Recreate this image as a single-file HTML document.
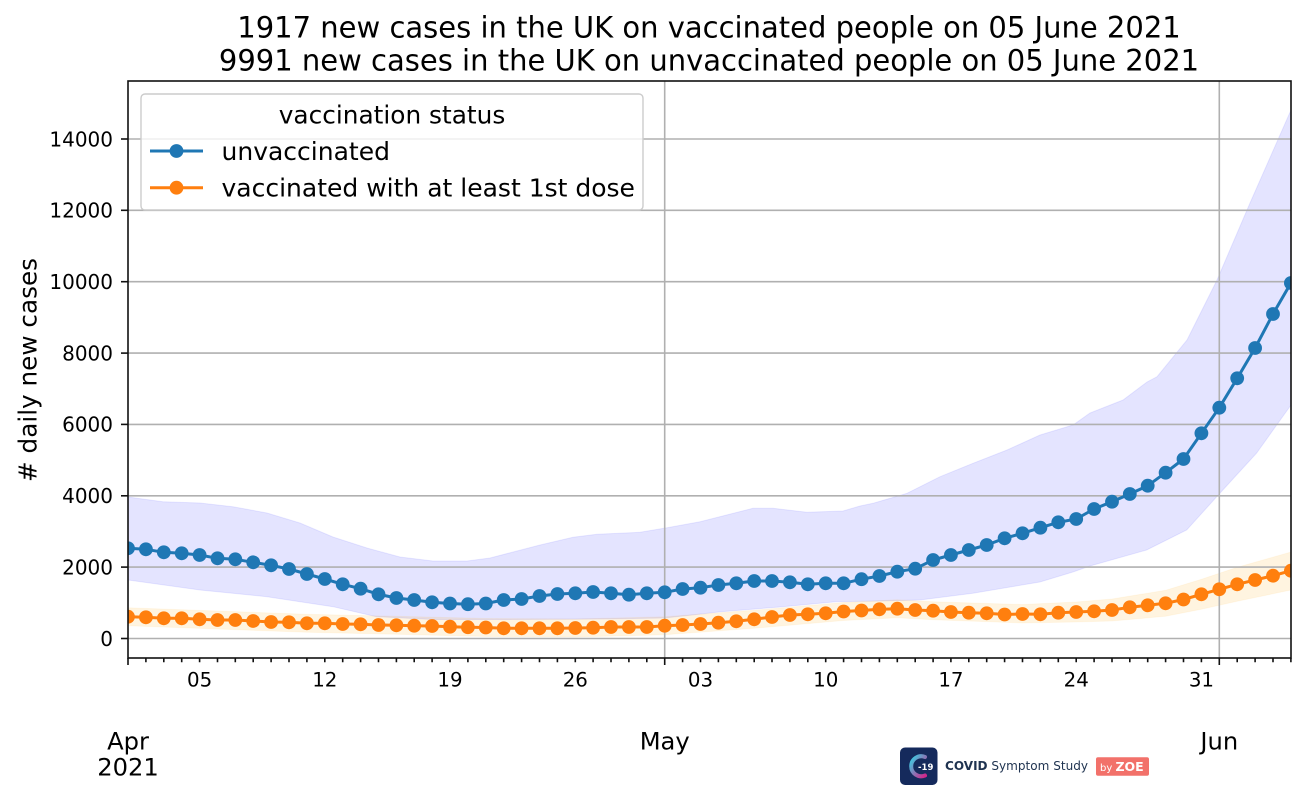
<!DOCTYPE html>
<html>
<head>
<meta charset="utf-8">
<style>
  html,body{margin:0;padding:0;background:#fff;}
  svg{display:block;}
  text{font-family:"DejaVu Sans","Liberation Sans",sans-serif;fill:#000;}
</style>
</head>
<body>
<svg width="1305" height="796" viewBox="0 0 1305 796" xmlns="http://www.w3.org/2000/svg">
  <defs>
    <clipPath id="plot"><rect x="128" y="81" width="1163" height="577"/></clipPath>
    <marker id="mb" viewBox="-8 -8 16 16" markerWidth="16" markerHeight="16" refX="0" refY="0" markerUnits="userSpaceOnUse">
      <circle r="6.9" fill="#1f77b4"/>
    </marker>
    <marker id="mo" viewBox="-8 -8 16 16" markerWidth="16" markerHeight="16" refX="0" refY="0" markerUnits="userSpaceOnUse">
      <circle r="6.9" fill="#ff7f0e"/>
    </marker>
    <linearGradient id="cg" x1="0" y1="0" x2="1" y2="1">
      <stop offset="0" stop-color="#35d3e6"/>
      <stop offset="1" stop-color="#d0268a"/>
    </linearGradient>
  </defs>

  <rect width="1305" height="796" fill="#fff"/>

  <!-- Title -->
  <text x="709" y="37.3" font-size="29" text-anchor="middle">1917 new cases in the UK on vaccinated people on 05 June 2021</text>
  <text x="709" y="70.3" font-size="29" text-anchor="middle">9991 new cases in the UK on unvaccinated people on 05 June 2021</text>

  <g clip-path="url(#plot)">
    <!-- blue confidence band -->
    <polygon fill="#0000ff" fill-opacity="0.105" stroke="#0000ff" stroke-opacity="0.08" stroke-width="1"
      points="128,497 163,501.7 200,503 233,506.7 267,513 300,523 333,537 367,548 400,557 433,561 467,561 490,558 540,545 573,537.3 597,534.3 640,532.3 667,527.7 700,521.7 753,508.3 773,508.3 807,512.3 843,511 860,506 873,503.3 907,493.3 940,476.7 973,463.3 1007,450 1040,435 1073,425 1090,413 1123,400 1147,382 1157,376.7 1187,340 1207,300 1217,280 1250,203 1291,110 1291,405 1256.7,453 1218.3,495 1186.7,530 1146.7,550 1090,566 1073,572 1040,582 973,593.3 920,600 880,601 836,601.7 780,607 721,611.7 665,618 600,619 500,619.5 433,619.5 376.6,616.7 333,606.7 300,601.7 267,596.7 200,590 128,580"/>
    <!-- orange confidence band -->
    <polygon fill="#ffa500" fill-opacity="0.12" stroke="#ffa500" stroke-opacity="0.06" stroke-width="1"
      points="128,607.7 217.5,611 306.9,614.3 396.4,616.3 485.8,618.5 575.3,619 664.7,616.7 754.2,610.3 843.6,602.5 897.3,599.7 933.1,601.7 1022.5,604.5 1076.2,602 1112,599 1165.6,590.3 1201.4,579.3 1237.2,567.3 1291,552 1291,590 1237.2,601.3 1201.4,609.3 1165.6,616.3 1112,621 1076.2,622 1022.5,623 933.1,619.7 897.3,617.7 843.6,620.5 754.2,628.3 664.7,634.7 575.3,637 485.8,636.5 396.4,634.3 306.9,632.3 217.5,629 128,625.7"/>

    <!-- grid -->
    <g stroke="#b0b0b0" stroke-width="1.6">
      <line x1="128" y1="638.5" x2="1291" y2="638.5"/>
      <line x1="128" y1="567.1" x2="1291" y2="567.1"/>
      <line x1="128" y1="495.8" x2="1291" y2="495.8"/>
      <line x1="128" y1="424.4" x2="1291" y2="424.4"/>
      <line x1="128" y1="353.1" x2="1291" y2="353.1"/>
      <line x1="128" y1="281.7" x2="1291" y2="281.7"/>
      <line x1="128" y1="210.3" x2="1291" y2="210.3"/>
      <line x1="128" y1="139" x2="1291" y2="139"/>
      <line x1="664.7" y1="81" x2="664.7" y2="658"/>
      <line x1="1219.3" y1="81" x2="1219.3" y2="658"/>
    </g>

    <!-- unvaccinated -->
    <polyline fill="none" stroke="#1f77b4" stroke-width="3" stroke-linejoin="round"
      marker-start="url(#mb)" marker-mid="url(#mb)" marker-end="url(#mb)"
      points="128,548.3 145.9,549.3 163.8,552.3 181.7,553.3 199.6,555 217.5,558.3 235.3,559.3 253.2,562.3 271.1,565.3 289,569 306.9,574 324.8,579 342.7,584.3 360.6,588.7 378.5,594.3 396.4,598 414.2,600 432.1,602.3 450,603.5 467.9,604.2 485.8,603.5 503.7,600 521.6,599 539.5,596 557.4,594 575.3,593.3 593.1,592 611,593.3 628.9,594.7 646.8,593.3 664.7,592.3 682.6,589 700.5,587.7 718.4,585 736.3,583.3 754.2,581 772,581 789.9,582.3 807.8,584.3 825.7,583.3 843.6,583.3 861.5,579.2 879.4,576 897.3,571.7 915.2,568.7 933.1,560 950.9,555 968.8,550 986.7,545 1004.6,538.3 1022.5,533.3 1040.4,527.7 1058.3,522.3 1076.2,519 1094.1,509 1112,501.7 1129.8,494 1147.7,485.7 1165.6,472.7 1183.5,459 1201.4,433.3 1219.3,407.7 1237.2,378.3 1255.1,348 1273,314 1290.9,283"/>
    <!-- vaccinated -->
    <polyline fill="none" stroke="#ff7f0e" stroke-width="3" stroke-linejoin="round"
      marker-start="url(#mo)" marker-mid="url(#mo)" marker-end="url(#mo)"
      points="128,616.7 145.9,617.3 163.8,618.3 181.7,618.3 199.6,619.3 217.5,620 235.3,620 253.2,621 271.1,622 289,622.3 306.9,623.3 324.8,623.3 342.7,624 360.6,624.3 378.5,625 396.4,625.3 414.2,625.7 432.1,626 450,626.7 467.9,627.2 485.8,627.5 503.7,628.3 521.6,628.3 539.5,628.3 557.4,628.3 575.3,628 593.1,627.7 611,627 628.9,627 646.8,627 664.7,625.7 682.6,625 700.5,624 718.4,622.7 736.3,621.3 754.2,619.3 772,617 789.9,615 807.8,614.3 825.7,613.3 843.6,611.5 861.5,610.5 879.4,609.3 897.3,608.7 915.2,610 933.1,610.7 950.9,612 968.8,612.7 986.7,613.3 1004.6,614.5 1022.5,614 1040.4,614.3 1058.3,612.7 1076.2,612 1094.1,611.3 1112,610 1129.8,607.3 1147.7,605.3 1165.6,603.3 1183.5,599.5 1201.4,594.3 1219.3,589.3 1237.2,584.3 1255.1,580 1273,575.7 1290.9,570.7"/>
  </g>

  <!-- spines -->
  <rect x="128" y="81" width="1163" height="577" fill="none" stroke="#111" stroke-width="1.6"/>

  <!-- y ticks -->
  <g stroke="#111" stroke-width="1.6">
    <line x1="121" y1="638.5" x2="128" y2="638.5"/>
    <line x1="121" y1="567.1" x2="128" y2="567.1"/>
    <line x1="121" y1="495.8" x2="128" y2="495.8"/>
    <line x1="121" y1="424.4" x2="128" y2="424.4"/>
    <line x1="121" y1="353.1" x2="128" y2="353.1"/>
    <line x1="121" y1="281.7" x2="128" y2="281.7"/>
    <line x1="121" y1="210.3" x2="128" y2="210.3"/>
    <line x1="121" y1="139" x2="128" y2="139"/>
  </g>
  <g font-size="20" text-anchor="end">
    <text x="113" y="645.8">0</text>
    <text x="113" y="574.4">2000</text>
    <text x="113" y="503.1">4000</text>
    <text x="113" y="431.7">6000</text>
    <text x="113" y="360.4">8000</text>
    <text x="113" y="289">10000</text>
    <text x="113" y="217.6">12000</text>
    <text x="113" y="146.3">14000</text>
  </g>

  <!-- x ticks -->
  <path stroke="#111" stroke-width="1.6" fill="none" d="M128 658v7 M664.7 658v7 M1219.3 658v7
    M145.9 658v4.2 M163.8 658v4.2 M181.7 658v4.2 M199.6 658v4.2 M217.5 658v4.2 M235.3 658v4.2 M253.2 658v4.2 M271.1 658v4.2 M289 658v4.2 M306.9 658v4.2 M324.8 658v4.2 M342.7 658v4.2 M360.6 658v4.2 M378.5 658v4.2 M396.4 658v4.2 M414.2 658v4.2 M432.1 658v4.2 M450 658v4.2 M467.9 658v4.2 M485.8 658v4.2 M503.7 658v4.2 M521.6 658v4.2 M539.5 658v4.2 M557.4 658v4.2 M575.3 658v4.2 M593.1 658v4.2 M611 658v4.2 M628.9 658v4.2 M646.8 658v4.2
    M682.6 658v4.2 M700.5 658v4.2 M718.4 658v4.2 M736.3 658v4.2 M754.2 658v4.2 M772 658v4.2 M789.9 658v4.2 M807.8 658v4.2 M825.7 658v4.2 M843.6 658v4.2 M861.5 658v4.2 M879.4 658v4.2 M897.3 658v4.2 M915.2 658v4.2 M933.1 658v4.2 M950.9 658v4.2 M968.8 658v4.2 M986.7 658v4.2 M1004.6 658v4.2 M1022.5 658v4.2 M1040.4 658v4.2 M1058.3 658v4.2 M1076.2 658v4.2 M1094.1 658v4.2 M1112 658v4.2 M1129.8 658v4.2 M1147.7 658v4.2 M1165.6 658v4.2 M1183.5 658v4.2 M1201.4 658v4.2
    M1237.2 658v4.2 M1255.1 658v4.2 M1273 658v4.2 M1290.9 658v4.2"/>
  <g font-size="19.8" text-anchor="middle">
    <text x="199.6" y="686.7">05</text>
    <text x="324.8" y="686.7">12</text>
    <text x="450" y="686.7">19</text>
    <text x="575.3" y="686.7">26</text>
    <text x="700.5" y="686.7">03</text>
    <text x="825.7" y="686.7">10</text>
    <text x="950.9" y="686.7">17</text>
    <text x="1076.2" y="686.7">24</text>
    <text x="1201.4" y="686.7">31</text>
  </g>
  <g font-size="24.2" text-anchor="middle">
    <text x="128" y="749.3">Apr</text>
    <text x="128" y="775.7">2021</text>
    <text x="664.7" y="749.3">May</text>
    <text x="1219.3" y="749.3">Jun</text>
  </g>

  <!-- y label -->
  <text transform="translate(36.5,370) rotate(-90)" font-size="24.7" text-anchor="middle"># daily new cases</text>

  <!-- legend -->
  <rect x="141" y="94" width="502" height="116" rx="4" ry="4" fill="#fff" fill-opacity="0.8" stroke="#cccccc" stroke-width="1.4"/>
  <text x="392" y="123.3" font-size="24.8" text-anchor="middle">vaccination status</text>
  <line x1="150" y1="151" x2="203" y2="151" stroke="#1f77b4" stroke-width="3"/>
  <circle cx="176.5" cy="151" r="6.9" fill="#1f77b4"/>
  <text x="221.5" y="160" font-size="25">unvaccinated</text>
  <line x1="150" y1="187.7" x2="203" y2="187.7" stroke="#ff7f0e" stroke-width="3"/>
  <circle cx="176.5" cy="187.7" r="6.9" fill="#ff7f0e"/>
  <text x="221.5" y="196.5" font-size="25">vaccinated with at least 1st dose</text>

  <!-- logo -->
  <rect x="900" y="747.5" width="37.5" height="37.5" rx="5" ry="5" fill="#152a5c"/>
  <path d="M925 757 A10 10 0 1 0 925 775.5" fill="none" stroke="url(#cg)" stroke-width="4" stroke-linecap="round"/>
  <text x="918" y="770" font-size="8.5" font-weight="bold" style="fill:#ffffff">-19</text>
  <text x="945" y="770" font-size="12" textLength="143" lengthAdjust="spacingAndGlyphs" style="fill:#1f3350"><tspan font-weight="bold">COVID</tspan> Symptom Study</text>
  <rect x="1096" y="757.3" width="53" height="18.4" rx="2" fill="#f2716a"/>
  <text x="1100" y="771" font-size="10" style="fill:#ffffff">by <tspan font-weight="bold" font-size="12.5">ZOE</tspan></text>
</svg>
</body>
</html>
